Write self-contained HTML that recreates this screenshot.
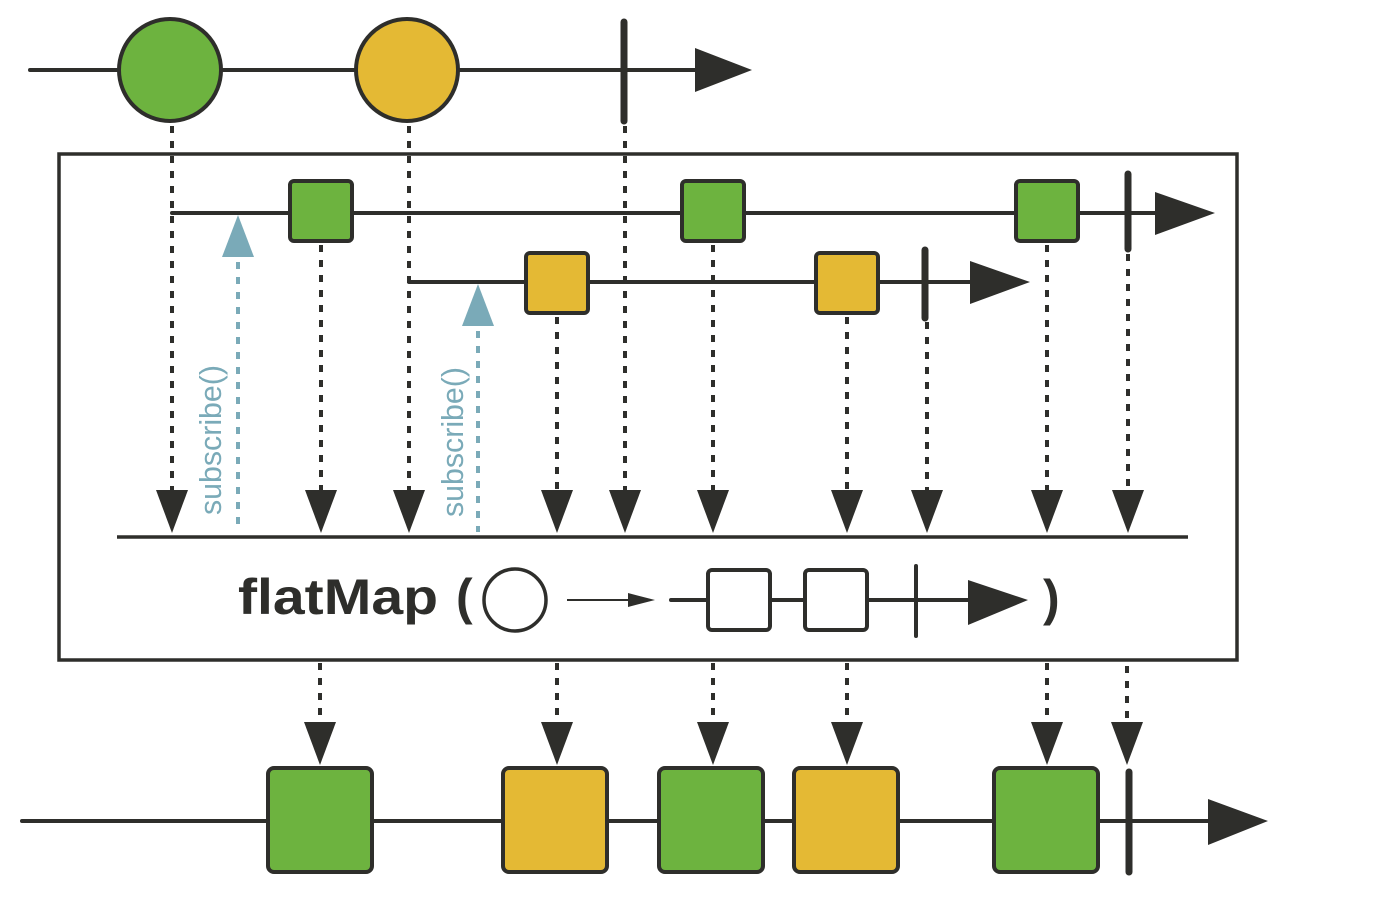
<!DOCTYPE html>
<html><head><style>html,body{margin:0;padding:0;background:#fff}svg{display:block}</style></head>
<body>
<svg width="1390" height="904" viewBox="0 0 1390 904" xmlns="http://www.w3.org/2000/svg">
<defs>
<style>
.l{stroke:#2e2e2b;stroke-width:4;fill:none;stroke-linecap:round}
.d{stroke:#2e2e2b;stroke-width:4;fill:none;stroke-dasharray:7,8}
.b{stroke:#7aaab8;stroke-width:4;fill:none;stroke-dasharray:7,8}
.g{fill:#6db33f;stroke:#2e2e2b;stroke-width:4}
.y{fill:#e4b934;stroke:#2e2e2b;stroke-width:4}
.w{fill:#fff;stroke:#2e2e2b;stroke-width:4}
.a{fill:#2e2e2b}
.bar{stroke:#2e2e2b;stroke-width:7;stroke-linecap:round}
</style>
</defs>
<line class="l" x1="30" y1="70" x2="700" y2="70"/>
<polygon class="a" points="695,48 752,70 695,92"/>
<ellipse class="g" cx="170" cy="70" rx="51" ry="51"/>
<ellipse class="y" cx="407" cy="70" rx="51" ry="51"/>
<line class="bar" x1="624" y1="22" x2="624" y2="121"/>

<rect x="59" y="154" width="1178" height="506" fill="none" stroke="#2e2e2b" stroke-width="3.5"/>

<line class="l" x1="172" y1="213" x2="1160" y2="213"/>
<polygon class="a" points="1155,192 1215,213 1155,235"/>
<line class="bar" x1="1128" y1="174" x2="1128" y2="249"/>
<line class="l" x1="409" y1="282" x2="975" y2="282"/>
<polygon class="a" points="970,261 1030,282 970,304"/>
<line class="bar" x1="925" y1="250" x2="925" y2="318"/>

<g>
<line class="d" x1="172" y1="126" x2="172" y2="490"/>
<line class="d" x1="321" y1="245" x2="321" y2="490"/>
<line class="d" x1="409" y1="126" x2="409" y2="490"/>
<line class="d" x1="557" y1="317" x2="557" y2="490"/>
<line class="d" x1="625" y1="126" x2="625" y2="490"/>
<line class="d" x1="713" y1="245" x2="713" y2="490"/>
<line class="d" x1="847" y1="317" x2="847" y2="490"/>
<line class="d" x1="927" y1="322" x2="927" y2="490"/>
<line class="d" x1="1047" y1="245" x2="1047" y2="490"/>
<line class="d" x1="1128" y1="254" x2="1128" y2="490"/>
</g>
<g class="a">
<polygon points="156,490 188,490 172,533"/>
<polygon points="305,490 337,490 321,533"/>
<polygon points="393,490 425,490 409,533"/>
<polygon points="541,490 573,490 557,533"/>
<polygon points="609,490 641,490 625,533"/>
<polygon points="697,490 729,490 713,533"/>
<polygon points="831,490 863,490 847,533"/>
<polygon points="911,490 943,490 927,533"/>
<polygon points="1031,490 1063,490 1047,533"/>
<polygon points="1112,490 1144,490 1128,533"/>
</g>

<rect class="g" x="290" y="181" width="62" height="60" rx="4"/>
<rect class="g" x="682" y="181" width="62" height="60" rx="4"/>
<rect class="g" x="1016" y="181" width="62" height="60" rx="4"/>
<rect class="y" x="526" y="253" width="62" height="60" rx="4"/>
<rect class="y" x="816" y="253" width="62" height="60" rx="4"/>

<line class="b" x1="238" y1="262" x2="238" y2="532"/>
<polygon fill="#7aaab8" points="238,215 254,257 222,257"/>
<line class="b" x1="478" y1="331" x2="478" y2="532"/>
<polygon fill="#7aaab8" points="478,284 494,326 462,326"/>
<text transform="translate(221,515) rotate(-90)" font-family="Liberation Sans, sans-serif" font-size="31" fill="#7aaab8" textLength="150" lengthAdjust="spacingAndGlyphs">subscribe()</text>
<text transform="translate(463,517) rotate(-90)" font-family="Liberation Sans, sans-serif" font-size="31" fill="#7aaab8" textLength="150" lengthAdjust="spacingAndGlyphs">subscribe()</text>

<line x1="117" y1="537" x2="1188" y2="537" stroke="#2e2e2b" stroke-width="3.5"/>

<text x="238" y="614" font-family="Liberation Sans, sans-serif" font-weight="bold" font-size="50" fill="#2e2e2b" textLength="200" lengthAdjust="spacingAndGlyphs">flatMap</text>
<text x="456" y="614" font-family="Liberation Sans, sans-serif" font-weight="bold" font-size="50" fill="#2e2e2b">(</text>
<circle cx="515" cy="600" r="31" fill="#fff" stroke="#2e2e2b" stroke-width="3.5"/>
<line x1="567" y1="600" x2="645" y2="600" stroke="#2e2e2b" stroke-width="2"/>
<polygon class="a" points="628,593 655,600 628,607"/>
<line class="l" x1="671" y1="600" x2="975" y2="600"/>
<rect class="w" x="708" y="570" width="62" height="60" rx="4"/>
<rect class="w" x="805" y="570" width="62" height="60" rx="4"/>
<line x1="916" y1="566" x2="916" y2="636" stroke="#2e2e2b" stroke-width="4" stroke-linecap="round"/>
<polygon class="a" points="968,580 1028,600 968,625"/>
<text x="1043" y="615" font-family="Liberation Sans, sans-serif" font-weight="bold" font-size="50" fill="#2e2e2b">)</text>

<line class="d" x1="320" y1="663" x2="320" y2="724"/>
<line class="d" x1="557" y1="663" x2="557" y2="724"/>
<line class="d" x1="713" y1="663" x2="713" y2="724"/>
<line class="d" x1="847" y1="663" x2="847" y2="724"/>
<line class="d" x1="1047" y1="663" x2="1047" y2="724"/>
<line class="d" x1="1127" y1="666" x2="1127" y2="724"/>
<g class="a">
<polygon points="304,722 336,722 320,765"/>
<polygon points="541,722 573,722 557,765"/>
<polygon points="697,722 729,722 713,765"/>
<polygon points="831,722 863,722 847,765"/>
<polygon points="1031,722 1063,722 1047,765"/>
<polygon points="1111,722 1143,722 1127,765"/>
</g>

<line class="l" x1="22" y1="821" x2="1212" y2="821"/>
<polygon class="a" points="1208,799 1268,821 1208,845"/>
<rect class="g" x="268" y="768" width="104" height="104" rx="6"/>
<rect class="y" x="503" y="768" width="104" height="104" rx="6"/>
<rect class="g" x="659" y="768" width="104" height="104" rx="6"/>
<rect class="y" x="794" y="768" width="104" height="104" rx="6"/>
<rect class="g" x="994" y="768" width="104" height="104" rx="6"/>
<line class="bar" x1="1129" y1="772" x2="1129" y2="872"/>
</svg>
</body></html>
